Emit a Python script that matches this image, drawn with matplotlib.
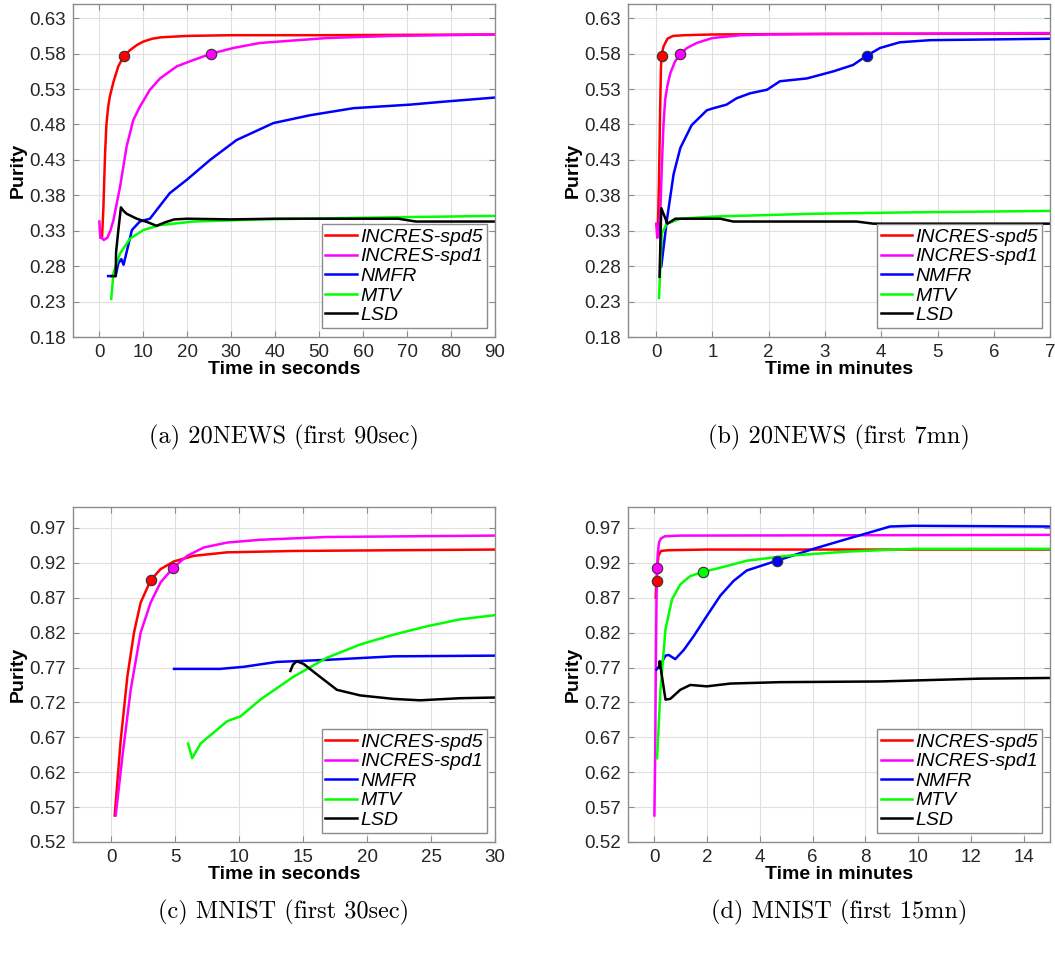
import matplotlib
matplotlib.use("Agg")
import matplotlib.pyplot as plt

plt.rcParams['font.family'] = ['Liberation Sans', 'DejaVu Sans']

NAMES = ["INCRES-spd5", "INCRES-spd1", "NMFR", "MTV", "LSD"]
COLORS = ["#ff0000", "#ff00ff", "#0000ff", "#00ff00", "#000000"]

# (a) 20NEWS, first 90 seconds
a_spd5_x = [0.6, 0.9, 1.1, 1.3, 1.6, 2.0, 2.4, 3.2, 4.3, 5.6, 7, 8.5, 10, 12, 14, 20, 30, 50, 90]
a_spd5_y = [0.32, 0.36, 0.40, 0.44, 0.48, 0.505, 0.52, 0.54, 0.562, 0.577, 0.585, 0.592, 0.597, 0.601, 0.603, 0.605, 0.606, 0.606, 0.607]
a_spd1_x = [0.0, 0.2, 0.5, 1.0, 1.8, 2.5, 3.2, 4.7, 6.2, 7.7, 9.2, 11.5, 13.8, 17.6, 21.4, 25.5, 30.5, 36.5, 51.7, 66.9, 90]
a_spd1_y = [0.343, 0.32, 0.32, 0.317, 0.32, 0.33, 0.345, 0.392, 0.449, 0.486, 0.505, 0.529, 0.545, 0.562, 0.571, 0.58, 0.588, 0.595, 0.602, 0.605, 0.607]
a_nmfr_x = [2.0, 3.7, 4.3, 5.0, 5.5, 6.2, 7.4, 9.2, 11.5, 13, 16, 19.9, 25.2, 31.2, 39.6, 47.9, 57.8, 70.7, 78, 90]
a_nmfr_y = [0.266, 0.266, 0.284, 0.29, 0.282, 0.30, 0.331, 0.343, 0.347, 0.359, 0.383, 0.402, 0.43, 0.458, 0.482, 0.493, 0.503, 0.508, 0.512, 0.518]
a_mtv_x = [2.7, 3.2, 4.7, 7, 10, 13.8, 21.4, 36.5, 66.9, 90]
a_mtv_y = [0.234, 0.27, 0.298, 0.319, 0.331, 0.338, 0.343, 0.346, 0.349, 0.351]
a_lsd_x = [2.8, 3.7, 3.8, 4.3, 4.9, 5.5, 6.2, 8.5, 11, 13, 15, 17, 20, 30, 40, 60, 68, 72, 90]
a_lsd_y = [0.266, 0.266, 0.30, 0.33, 0.363, 0.358, 0.354, 0.347, 0.342, 0.337, 0.342, 0.346, 0.347, 0.346, 0.347, 0.347, 0.347, 0.343, 0.343]
a_marks = [(0, 5.6, 0.577), (1, 25.5, 0.580)]

# (b) 20NEWS, first 7 minutes
b_spd5_x = [0.03, 0.05, 0.07, 0.085, 0.095, 0.13, 0.2, 0.3, 0.5, 1, 3, 7]
b_spd5_y = [0.33, 0.40, 0.50, 0.56, 0.577, 0.59, 0.601, 0.605, 0.606, 0.607, 0.608, 0.608]
b_spd1_x = [0.0, 0.02, 0.05, 0.08, 0.1, 0.13, 0.16, 0.2, 0.25, 0.33, 0.426, 0.55, 0.72, 1.0, 1.5, 2, 4, 7]
b_spd1_y = [0.34, 0.32, 0.33, 0.37, 0.42, 0.48, 0.515, 0.535, 0.552, 0.568, 0.58, 0.588, 0.595, 0.602, 0.606, 0.607, 0.608, 0.609]
b_nmfr_x = [0.08, 0.09, 0.19, 0.31, 0.43, 0.63, 0.9, 1.02, 1.25, 1.43, 1.67, 1.97, 2.2, 2.68, 3.15, 3.5, 3.74, 3.98, 4.33, 4.87, 7]
b_nmfr_y = [0.34, 0.279, 0.345, 0.41, 0.447, 0.479, 0.50, 0.503, 0.508, 0.517, 0.524, 0.529, 0.541, 0.545, 0.555, 0.564, 0.577, 0.588, 0.596, 0.599, 0.601]
b_mtv_x = [0.05, 0.1, 0.19, 0.43, 1.02, 2.8, 4.57, 7]
b_mtv_y = [0.235, 0.326, 0.34, 0.347, 0.35, 0.354, 0.356, 0.358]
b_lsd_x = [0.06, 0.09, 0.2, 0.34, 1.14, 1.37, 3.56, 3.86, 7]
b_lsd_y = [0.265, 0.362, 0.34, 0.347, 0.347, 0.343, 0.343, 0.34, 0.34]
b_marks = [(0, 0.095, 0.577), (1, 0.426, 0.580), (2, 3.74, 0.577)]

# (c) MNIST, first 30 seconds
c_spd5_x = [0.26, 0.73, 1.25, 1.77, 2.29, 3.07, 3.85, 4.89, 6.45, 9.05, 14.3, 30]
c_spd5_y = [0.558, 0.666, 0.757, 0.82, 0.863, 0.895, 0.911, 0.922, 0.93, 0.935, 0.937, 0.939]
c_spd1_x = [0.34, 0.86, 1.51, 2.29, 3.07, 3.85, 4.84, 5.93, 7.23, 9.05, 11.65, 16.86, 30]
c_spd1_y = [0.558, 0.642, 0.738, 0.82, 0.863, 0.892, 0.913, 0.930, 0.942, 0.949, 0.953, 0.957, 0.959]
c_nmfr_x = [4.9, 8.5, 10.35, 12.95, 16.86, 22.06, 30]
c_nmfr_y = [0.768, 0.768, 0.771, 0.778, 0.781, 0.786, 0.787]
c_mtv_x = [6.0, 6.32, 6.97, 9.05, 10.1, 11.65, 14.26, 16.86, 19.46, 22.06, 24.66, 27.27, 30]
c_mtv_y = [0.661, 0.64, 0.661, 0.693, 0.70, 0.724, 0.757, 0.784, 0.803, 0.817, 0.829, 0.839, 0.845]
c_lsd_x = [14.0, 14.2, 14.5, 15.04, 16.08, 17.64, 19.46, 22.06, 24.14, 27.27, 30]
c_lsd_y = [0.765, 0.774, 0.779, 0.775, 0.76, 0.738, 0.73, 0.725, 0.723, 0.726, 0.727]
c_marks = [(0, 3.07, 0.895), (1, 4.84, 0.913)]

# (d) MNIST, first 15 minutes
d_spd5_x = [0.05, 0.08, 0.15, 0.25, 0.5, 2, 8, 15]
d_spd5_y = [0.87, 0.894, 0.93, 0.937, 0.938, 0.939, 0.939, 0.939]
d_spd1_x = [0.0, 0.03, 0.06, 0.08, 0.1, 0.13, 0.18, 0.25, 0.4, 1, 15]
d_spd1_y = [0.558, 0.65, 0.80, 0.87, 0.913, 0.935, 0.95, 0.955, 0.958, 0.959, 0.960]
d_nmfr_x = [0.08, 0.23, 0.42, 0.54, 0.79, 1.11, 1.49, 1.99, 2.5, 3.0, 3.5, 4.64, 6.03, 7.29, 8.3, 8.93, 9.81, 15]
d_nmfr_y = [0.767, 0.774, 0.787, 0.788, 0.782, 0.795, 0.815, 0.844, 0.873, 0.894, 0.909, 0.923, 0.94, 0.954, 0.965, 0.972, 0.973, 0.972]
d_mtv_x = [0.1, 0.23, 0.42, 0.67, 0.98, 1.36, 1.84, 2.5, 3.5, 5.02, 7.29, 9.81, 15]
d_mtv_y = [0.64, 0.738, 0.825, 0.868, 0.889, 0.901, 0.907, 0.913, 0.923, 0.93, 0.936, 0.94, 0.94]
d_lsd_x = [0.18, 0.2, 0.42, 0.6, 0.98, 1.36, 1.99, 2.88, 4.77, 8.55, 12.3, 15]
d_lsd_y = [0.77, 0.779, 0.724, 0.725, 0.738, 0.745, 0.743, 0.747, 0.749, 0.750, 0.754, 0.755]
d_marks = [(0, 0.08, 0.894), (1, 0.1, 0.913), (2, 4.64, 0.923), (3, 1.84, 0.907)]

y_top = [0.18, 0.23, 0.28, 0.33, 0.38, 0.43, 0.48, 0.53, 0.58, 0.63]
y_bot = [0.52, 0.57, 0.62, 0.67, 0.72, 0.77, 0.82, 0.87, 0.92, 0.97]

panels = [
    dict(rect=[0.0692, 0.6482, 0.4, 0.3476], cap_y=0.543,
         series=[(a_spd5_x, a_spd5_y), (a_spd1_x, a_spd1_y), (a_nmfr_x, a_nmfr_y), (a_mtv_x, a_mtv_y), (a_lsd_x, a_lsd_y)],
         marks=a_marks, xlim=(-6, 90), xticks=list(range(0, 91, 10)), ylim=(0.18, 0.65), yticks=y_top,
         xlabel="Time in seconds", caption="(a) 20NEWS (first 90sec)"),
    dict(rect=[0.5953, 0.6482, 0.4, 0.3476], cap_y=0.543,
         series=[(b_spd5_x, b_spd5_y), (b_spd1_x, b_spd1_y), (b_nmfr_x, b_nmfr_y), (b_mtv_x, b_mtv_y), (b_lsd_x, b_lsd_y)],
         marks=b_marks, xlim=(-0.5, 7), xticks=list(range(0, 8)), ylim=(0.18, 0.65), yticks=y_top,
         xlabel="Time in minutes", caption="(b) 20NEWS (first 7mn)"),
    dict(rect=[0.0692, 0.1211, 0.4, 0.3497], cap_y=0.048,
         series=[(c_spd5_x, c_spd5_y), (c_spd1_x, c_spd1_y), (c_nmfr_x, c_nmfr_y), (c_mtv_x, c_mtv_y), (c_lsd_x, c_lsd_y)],
         marks=c_marks, xlim=(-3, 30), xticks=list(range(0, 31, 5)), ylim=(0.52, 1.0), yticks=y_bot,
         xlabel="Time in seconds", caption="(c) MNIST (first 30sec)"),
    dict(rect=[0.5953, 0.1211, 0.4, 0.3497], cap_y=0.048,
         series=[(d_spd5_x, d_spd5_y), (d_spd1_x, d_spd1_y), (d_nmfr_x, d_nmfr_y), (d_mtv_x, d_mtv_y), (d_lsd_x, d_lsd_y)],
         marks=d_marks, xlim=(-1, 15), xticks=list(range(0, 15, 2)), ylim=(0.52, 1.0), yticks=y_bot,
         xlabel="Time in minutes", caption="(d) MNIST (first 15mn)"),
]

fig = plt.figure(figsize=(10.55, 9.58), dpi=100)

for p in panels:
    ax = fig.add_axes(p["rect"])
    for (x, y), name, c in zip(p["series"], NAMES, COLORS):
        ax.plot(x, y, color=c, lw=1.8, label=name)
    for i, mx, my in p["marks"]:
        ax.plot(mx, my, 'o', ms=7.5, mfc=COLORS[i], mec='#333333', mew=0.8, zorder=5)
    ax.set_xlim(p["xlim"])
    ax.set_ylim(p["ylim"])
    ax.set_xticks(p["xticks"])
    ax.set_yticks(p["yticks"])
    ax.set_yticklabels(["%.2f" % v for v in p["yticks"]])
    ax.grid(True, color='#e0e0e0', lw=0.8)
    ax.set_axisbelow(True)
    for s in ax.spines.values():
        s.set_color('#8c8c8c')
        s.set_linewidth(1.0)
    ax.tick_params(direction='in', top=True, right=True, length=4, color='#8c8c8c',
                   labelsize=13.5, labelcolor='#262626', pad=5)
    ax.set_xlabel(p["xlabel"], fontsize=14, fontweight='bold', labelpad=0)
    ax.set_ylabel("Purity", fontsize=14, fontweight='bold', labelpad=2)
    leg = ax.legend(loc='lower right', bbox_to_anchor=(0.981, 0.027), borderaxespad=0,
                    prop={'style': 'italic', 'size': 14}, handlelength=1.6, handletextpad=0.2,
                    labelspacing=0.1, borderpad=0.2, fancybox=False, framealpha=1)
    leg.get_frame().set_edgecolor('#8c8c8c')
    leg.get_frame().set_linewidth(1.0)
    r = p["rect"]
    fig.text(r[0] + r[2] / 2, p["cap_y"], p["caption"], ha='center', va='center',
             fontsize=17.5, family=['cmr10', 'DejaVu Serif'])

fig.savefig("out.png", dpi=100)
